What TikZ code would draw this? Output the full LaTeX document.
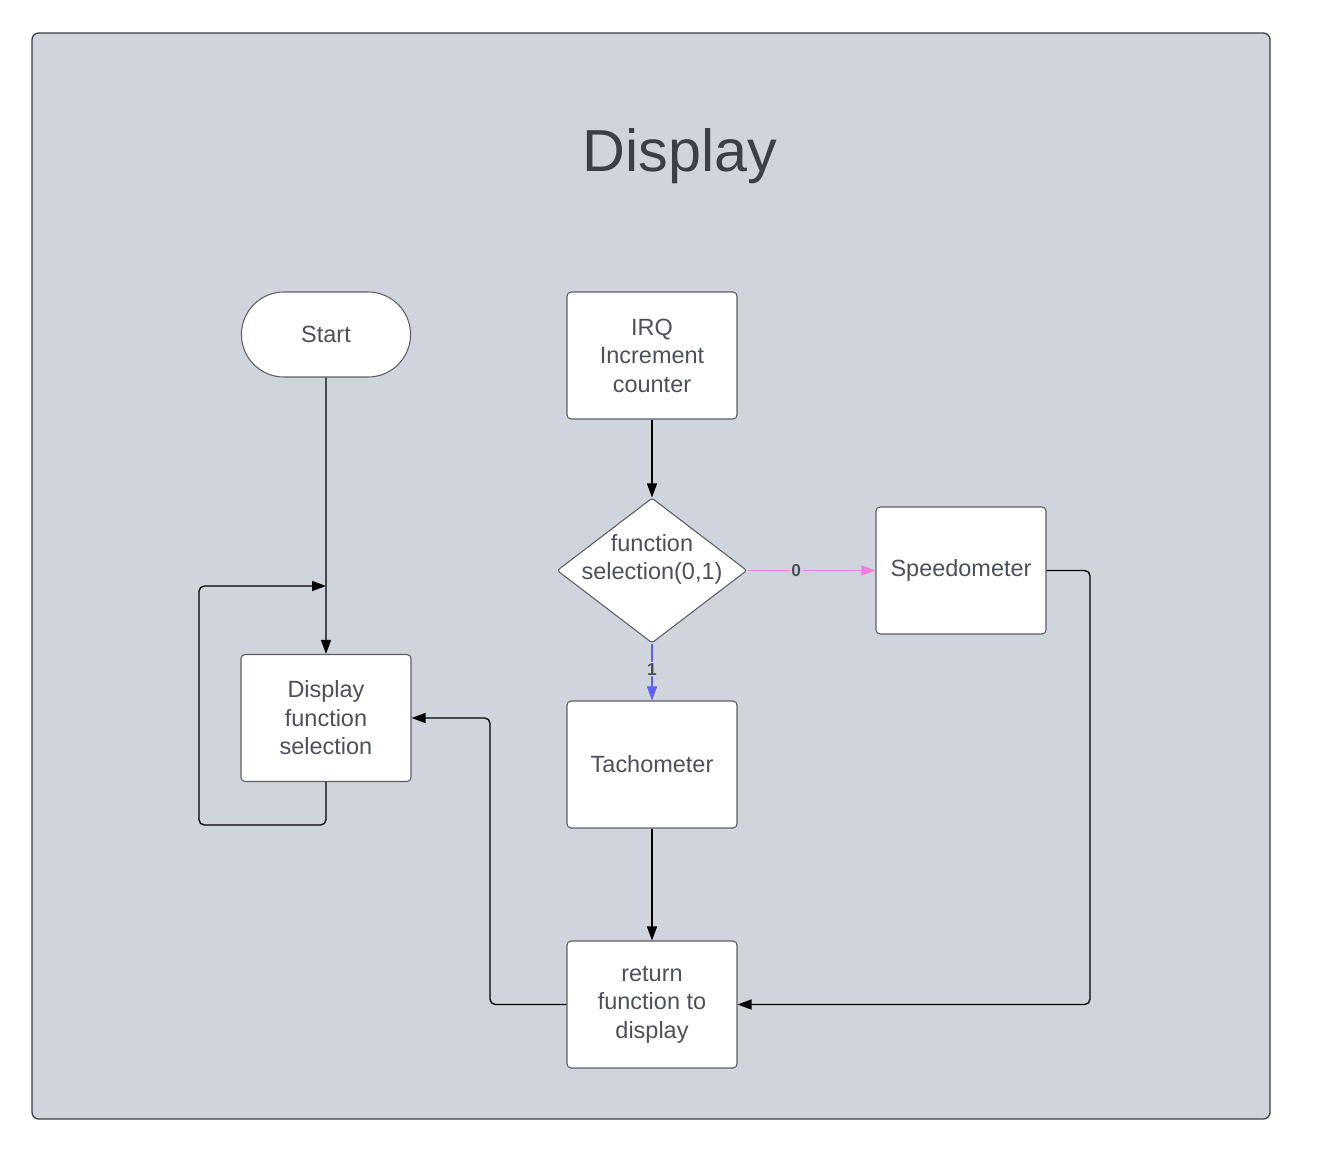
\documentclass[tikz,border=0pt]{standalone}
\usepackage{fontspec}
\setmainfont{Liberation Sans}
\usetikzlibrary{shapes.geometric,shapes.misc,arrows.meta}
\definecolor{panel}{HTML}{D0D4DC}
\definecolor{txt}{HTML}{4B505C}
\definecolor{ttl}{HTML}{3A3F4A}
\definecolor{edge}{HTML}{5A5E66}
\definecolor{pinkc}{HTML}{F07EDC}
\definecolor{bluec}{HTML}{6060F5}
\tikzset{
  box/.style={draw=edge, line width=0.8pt, fill=white, rounded corners=3pt,
    minimum width=127.5pt, minimum height=95.25pt, align=center,
    text=txt, font=\fontsize{17.6}{21.4}\selectfont, inner sep=0pt},
  startbox/.style={draw=edge, line width=0.8pt, fill=white, rounded rectangle,
    minimum width=133.5pt, minimum height=63.75pt, text=txt,
    font=\fontsize{17.6}{21.4}\selectfont},
  decision/.style={draw=edge, line width=0.8pt, fill=white, diamond, aspect=1.31,
    minimum width=142.5pt, minimum height=108.75pt, inner sep=-40pt, align=center,
    text=txt, font=\fontsize{17.6}{21.4}\selectfont, rounded corners=2pt},
  conn/.style={line width=1pt, -{Triangle[length=10.5pt,width=7.5pt]}, rounded corners=4pt},
  lbl/.style={font=\bfseries\fontsize{13}{15}\selectfont, text=txt, inner sep=1pt}
}
\begin{document}
\begin{tikzpicture}[x=0.75pt,y=-0.75pt]
\useasboundingbox (0,0) rectangle (1334,1159);
\node[draw=ttl, line width=1pt, fill=panel, rounded corners=5pt, minimum width=928.5pt, minimum height=814.5pt, inner sep=0pt] (panel) at (651,576) {};
\node[text=ttl, font=\fontsize{44.5}{52}\selectfont] (title) at (680,156) {Display};
\node[startbox] (start) at (326,334.5) {Start};
\node[box] (irq) at (652,355.5) {IRQ\\Increment\\counter};
\node[decision] (dec) at (652,570.5) {\raisebox{0pt}[\height][\dimexpr\depth+16pt\relax]{\begin{tabular}{@{}c@{}}function\\selection(0,1)\end{tabular}}};
\node[box] (speed) at (961,570.5) {Speedometer};
\node[box] (tach) at (652,764.5) {Tachometer};
\node[box] (dfs) at (326,718) {Display\\function\\selection};
\node[box] (ret) at (652,1004.5) {return\\function to\\display};
\coordinate (loopin) at (326,586);
\draw[conn] (start) -- (dfs);
\draw[conn] (dfs.south) |- (199,825) |- (loopin);
\draw[conn] (irq) -- (dec);
\draw[conn, draw=pinkc, -{Triangle[length=10.5pt,width=7.5pt,fill=pinkc]}, line width=0.8pt] (dec.east) -- node[lbl, pos=0.38, fill=panel] {0} (speed.west);
\draw[conn, draw=bluec, -{Triangle[length=10.5pt,width=7.5pt,fill=bluec]}, line width=0.8pt] (dec.south) -- node[lbl, pos=0.45, fill=panel] {1} (tach.north);
\draw[conn] (tach) -- (ret);
\draw[conn] (speed.east) -| (1090,1004.5) -- (ret.east);
\draw[conn] (ret.west) -| (490,718) -- (dfs.east);
\end{tikzpicture}
\end{document}
